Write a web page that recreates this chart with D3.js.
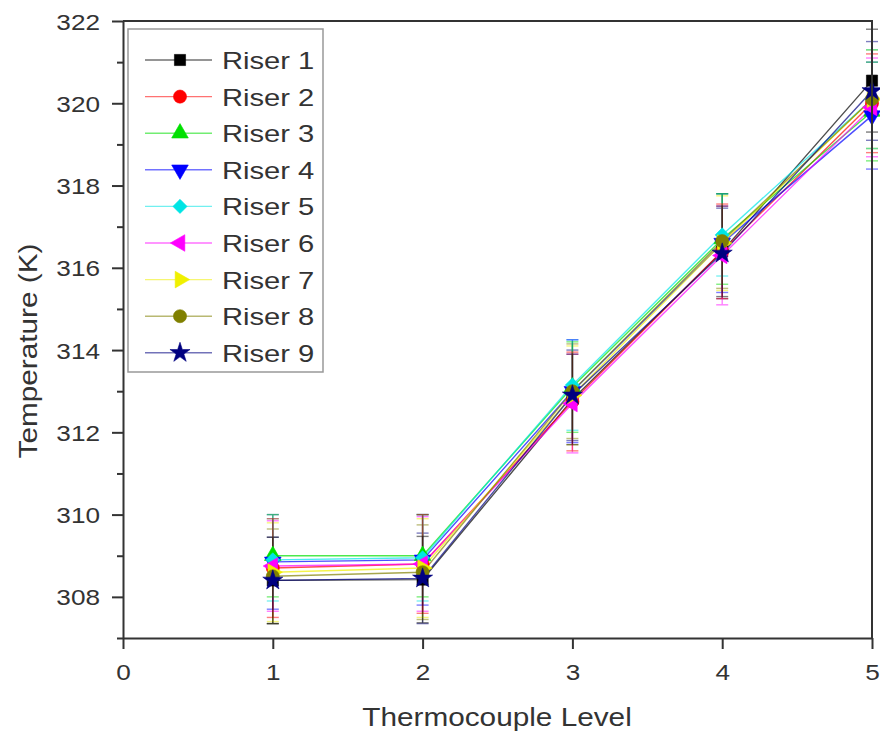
<!DOCTYPE html>
<html>
<head>
<meta charset="utf-8">
<script src="https://cdn.jsdelivr.net/npm/d3@7"></script>
<style>
  body { margin: 0; background: #fff; }
  svg text { font-family: "Liberation Sans", Arial, sans-serif; fill: #333; }
</style>
</head>
<body>
<div id="chart"></div>
<script>
// thermocouple levels along the riser
var levels = [1, 2, 3, 4, 5];
var xTicks = [0, 1, 2, 3, 4, 5];
var yTicks = [308, 310, 312, 314, 316, 318, 320, 322];
var yMinorTicks = [307, 309, 311, 313, 315, 317, 319, 321];

var riserNames  = ['Riser 1','Riser 2','Riser 3','Riser 4','Riser 5','Riser 6','Riser 7','Riser 8','Riser 9'];
var riserColors = ['#000000','#ff0000','#00e000','#0000ff','#00e5e5','#ff00ff','#f0f000','#808000','#000080'];
var riserShapes = ['square','circle','triUp','triDown','diamond','triLeft','triRight','circle','star'];

// mean temperature (K) per level
var riser1Temp = [308.40, 308.42, 312.80, 316.40, 320.55];
var riser2Temp = [308.70, 308.80, 312.75, 316.40, 320.00];
var riser3Temp = [309.00, 309.00, 313.10, 316.70, 319.80];
var riser4Temp = [308.85, 308.90, 313.00, 316.60, 319.70];
var riser5Temp = [308.90, 308.95, 313.15, 316.80, 320.10];
var riser6Temp = [308.75, 308.80, 312.70, 316.30, 319.90];
var riser7Temp = [308.60, 308.70, 312.90, 316.60, 320.10];
var riser8Temp = [308.50, 308.60, 313.00, 316.65, 320.10];
var riser9Temp = [308.40, 308.45, 312.90, 316.35, 320.30];

// error bar half-widths (K)
var riser1Err = [1.05, 1.05, 1.10, 1.10, 1.25];
var riser2Err = [1.20, 1.20, 1.20, 1.15, 1.20];
var riser3Err = [1.00, 1.00, 1.10, 1.10, 1.20];
var riser4Err = [1.15, 1.10, 1.25, 1.20, 1.30];
var riser5Err = [1.00, 1.05, 1.10, 1.00, 1.20];
var riser6Err = [1.10, 1.15, 1.20, 1.20, 1.20];
var riser7Err = [1.20, 1.20, 1.20, 1.15, 1.20];
var riser8Err = [1.15, 1.15, 1.15, 1.15, 1.20];
var riser9Err = [1.05, 1.10, 1.10, 1.10, 1.20];

var temps = [riser1Temp, riser2Temp, riser3Temp, riser4Temp, riser5Temp, riser6Temp, riser7Temp, riser8Temp, riser9Temp];
var errs  = [riser1Err, riser2Err, riser3Err, riser4Err, riser5Err, riser6Err, riser7Err, riser8Err, riser9Err];

var W = 880, H = 740;
var SX = 1.19; // glyphs in the original are a bit wide
var svg = d3.select('#chart').append('svg').attr('width', W).attr('height', H);

var x = d3.scaleLinear().domain([0, 5]).range([123, 872]);
var y = d3.scaleLinear().domain([307, 322]).range([638, 21]);

function symbolPath(shape){
    var s = d3.symbol();
    if(shape === 'square') return s.type(d3.symbolSquare).size(125)();
    if(shape === 'circle') return s.type(d3.symbolCircle).size(135)();
    if(shape === 'diamond') return s.type(d3.symbolSquare).size(100)();
    if(shape === 'star') return s.type(d3.symbolStar).size(125)();
    return s.type(d3.symbolTriangle).size(120)();
}
function symbolRot(shape){
    return { triDown: 180, triLeft: -90, triRight: 90, diamond: 45 }[shape] || 0;
}

var series = riserNames.map(function(n, i){
    return { name: n, color: riserColors[i], shape: riserShapes[i],
        pts: levels.map(function(l, k){ return { lv: l, t: temps[i][k], e: errs[i][k] }; }) };
});

// Error bars (Riser 1 last so its dark stem sits on top)
var errG = svg.append('g');
series.slice().reverse().forEach(function(s){
    var g = errG.append('g').attr('stroke', s.color).attr('stroke-width', 1.4).attr('opacity', 0.5);
    s.pts.forEach(function(p){
        var cx = x(p.lv);
        g.append('line').attr('x1', cx).attr('x2', cx).attr('y1', y(p.t - p.e)).attr('y2', y(p.t + p.e));
        g.append('line').attr('x1', cx - 6).attr('x2', cx + 6).attr('y1', y(p.t + p.e)).attr('y2', y(p.t + p.e));
        g.append('line').attr('x1', cx - 6).attr('x2', cx + 6).attr('y1', y(p.t - p.e)).attr('y2', y(p.t - p.e));
    });
});

// Lines
var line = d3.line().x(function(d){ return x(d.lv); }).y(function(d){ return y(d.t); });
svg.append('g').selectAll('path').data(series).join('path')
    .attr('d', function(d){ return line(d.pts); })
    .attr('fill', 'none').attr('stroke', function(d){ return d.color; })
    .attr('stroke-width', 1.4).attr('opacity', 0.7);

// Markers
series.forEach(function(s){
    svg.append('g').selectAll('path').data(s.pts).join('path')
        .attr('d', symbolPath(s.shape))
        .attr('transform', function(d){ return 'translate(' + x(d.lv) + ',' + y(d.t) + ') rotate(' + symbolRot(s.shape) + ')'; })
        .attr('fill', s.color).attr('stroke', s.color).attr('stroke-width', 0.6);
});

// Axes
var axisColor = '#333';
var xAxisG = svg.append('g').attr('transform', 'translate(0,638)')
    .call(d3.axisBottom(x).tickValues(xTicks).tickSize(11).tickSizeOuter(0).tickFormat(d3.format('d')));
xAxisG.selectAll('text')
    .attr('y', null).attr('dy', null)
    .attr('transform', 'translate(0,42) scale(' + SX + ',1)')
    .attr('font-size', 22).attr('fill', axisColor);

var yAxisG = svg.append('g').attr('transform', 'translate(123,0)')
    .call(d3.axisLeft(y).tickValues(yTicks).tickSize(11).tickSizeOuter(0).tickFormat(d3.format('d')));
yAxisG.selectAll('text')
    .attr('x', null).attr('dy', null)
    .attr('transform', 'translate(-23,8) scale(' + SX + ',1)')
    .attr('font-size', 22).attr('fill', axisColor);

svg.append('g').attr('transform', 'translate(123,0)')
    .call(d3.axisLeft(y).tickValues(yMinorTicks).tickSize(6).tickFormat(''))
    .select('.domain').remove();

[xAxisG, yAxisG].forEach(function(g){
    g.select('.domain').attr('stroke', axisColor).attr('stroke-width', 2);
});
svg.selectAll('.tick line').attr('stroke', axisColor).attr('stroke-width', 2);

// Frame top + right
svg.append('path')
    .attr('d', 'M' + x(0) + ',' + y(322) + 'H' + x(5) + 'V' + y(307))
    .attr('fill', 'none').attr('stroke', axisColor).attr('stroke-width', 2);

// Axis titles
svg.append('text')
    .attr('transform', 'translate(497,726) scale(' + SX + ',1)')
    .attr('text-anchor', 'middle').attr('font-size', 25)
    .text('Thermocouple Level');
svg.append('text')
    .attr('transform', 'translate(37,351) rotate(-90) scale(' + SX + ',1)')
    .attr('text-anchor', 'middle').attr('font-size', 25)
    .text('Temperature (K)');

// Legend
var leg = svg.append('g');
leg.append('rect').attr('x', 128).attr('y', 29).attr('width', 195).attr('height', 343)
    .attr('fill', '#fff').attr('stroke', '#999').attr('stroke-width', 1.5);
series.forEach(function(s, i){
    var cy = 60 + i * 36.6;
    leg.append('line').attr('x1', 145).attr('x2', 212).attr('y1', cy).attr('y2', cy)
        .attr('stroke', s.color).attr('stroke-width', 1.4).attr('opacity', 0.55);
    leg.append('path').attr('d', symbolPath(s.shape))
        .attr('transform', 'translate(180,' + cy + ') rotate(' + symbolRot(s.shape) + ')')
        .attr('fill', s.color).attr('stroke', s.color).attr('stroke-width', 0.6);
    leg.append('text')
        .attr('transform', 'translate(222,' + (cy + 9) + ') scale(' + SX + ',1)')
        .attr('font-size', 24.5)
        .text(s.name);
});
</script>
</body>
</html>
